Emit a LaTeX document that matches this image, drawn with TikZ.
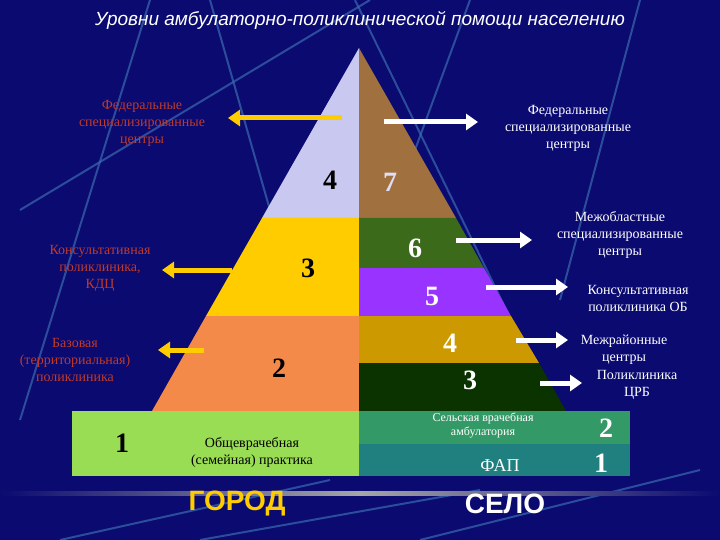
\documentclass[tikz,border=0pt]{standalone}
\usepackage{fontspec}
\setmainfont{Liberation Serif}
\newfontfamily\arial{Liberation Sans}
\usetikzlibrary{arrows.meta}
\definecolor{bg}{HTML}{0A0A70}
\definecolor{deco}{HTML}{3A6AB0}
\definecolor{lav}{HTML}{C8C8F0}
\definecolor{yel}{HTML}{FFCC00}
\definecolor{ora}{HTML}{F48A4A}
\definecolor{brn}{HTML}{A0703F}
\definecolor{grn}{HTML}{3A6A1A}
\definecolor{pur}{HTML}{9933FF}
\definecolor{gld}{HTML}{CC9900}
\definecolor{dgr}{HTML}{0A3300}
\definecolor{lgr}{HTML}{99DD55}
\definecolor{sgr}{HTML}{339966}
\definecolor{teal}{HTML}{208080}
\definecolor{redt}{HTML}{C03A2A}
\tikzset{
  lbl/.style={align=center,font=\fontsize{14}{17}\selectfont,inner sep=0pt},
  rlbl/.style={lbl,text=redt},
  wlbl/.style={lbl,text=white},
  num/.style={font=\fontsize{28}{30}\selectfont\bfseries,inner sep=0pt},
  yarr/.style={draw=yel,line width=5pt,-{Triangle[length=12pt,width=16pt]}},
  warr/.style={draw=white,line width=5pt,-{Triangle[length=12pt,width=16pt]}},
}
\begin{document}
\begin{tikzpicture}[x=1pt,y=-1pt]
\fill[bg] (0,0) rectangle (720,540);
\useasboundingbox (0,0) rectangle (720,540);
% decorative lines
\begin{scope}[deco,line width=2pt,opacity=0.7]
\draw (20,210) -- (370,0);
\draw (210,0) -- (330,420);
\draw (355,0) -- (560,420);
\draw (470,0) -- (360,300);
\draw (640,0) -- (560,300);
\draw (150,0) -- (20,420);
\draw (60,540) -- (330,480);
\draw (420,540) -- (700,470);
\draw (200,540) -- (480,490);
\end{scope}
% pyramid left
\fill[lav] (359,48) -- (262,218) -- (359,218) -- cycle;
\fill[yel] (262,218) -- (206,316) -- (359,316) -- (359,218) -- cycle;
\fill[ora] (206,316) -- (152,411) -- (359,411) -- (359,316) -- cycle;
% right
\fill[brn] (359,48) -- (456,218) -- (359,218) -- cycle;
\fill[grn] (456,218) -- (484,268) -- (359,268) -- (359,218) -- cycle;
\fill[pur] (484,268) -- (511,316) -- (359,316) -- (359,268) -- cycle;
\fill[gld] (511,316) -- (539,363) -- (359,363) -- (359,316) -- cycle;
\fill[dgr] (539,363) -- (566,411) -- (359,411) -- (359,363) -- cycle;
% base
\fill[lgr] (72,411) rectangle (359,476);
\fill[sgr] (359,411) rectangle (630,444);
\fill[teal] (359,444) rectangle (630,476);
\fill[left color=bg,right color=bg,middle color=gray!70] (0,491) rectangle (720,495);
% numbers
\node[num] (n4l) at (330,180) {4};
\node[num,text=lav!60] (n7) at (390,182) {7};
\node[num] (n3l) at (308,268) {3};
\node[num] (n2l) at (279,368) {2};
\node[num] (n1l) at (122,443) {1};
\node[num,text=white] (n6) at (415,248) {6};
\node[num,text=white] (n5) at (432,296) {5};
\node[num,text=white] (n4r) at (450,343) {4};
\node[num,text=white] (n3r) at (470,380) {3};
\node[num,text=white] (n2r) at (606,428) {2};
\node[num,text=white] (n1r) at (601,463) {1};
% left labels
\node[rlbl] (l1) at (142,123) {Федеральные\\специализированные\\центры};
\node[rlbl] (l2) at (100,268) {Консультативная\\поликлиника,\\КДЦ};
\node[rlbl] (l3) at (75,360) {Базовая\\(территориальная)\\поликлиника};
\node[lbl] (l4) at (252,452) {Общеврачебная\\(семейная) практика};
% right labels
\node[wlbl] (r1) at (568,128) {Федеральные\\специализированные\\центры};
\node[wlbl] (r2) at (620,235) {Межобластные\\специализированные\\центры};
\node[wlbl] (r3) at (638,298) {Консультативная\\поликлиника ОБ};
\node[wlbl] (r4) at (624,350) {Межрайонные\\центры};
\node[wlbl] (r5) at (637,385) {Поликлиника\\ЦРБ};
\node[wlbl,font=\fontsize{12}{14}\selectfont] (r6) at (483,425) {Сельская врачебная\\амбулатория};
\node[wlbl,font=\fontsize{18}{20}\selectfont] (r7) at (500,466) {ФАП};
% arrow anchors
\coordinate (a1s) at (342,118); \coordinate (a1e) at (228,118);
\coordinate (a2s) at (232,270); \coordinate (a2e) at (162,270);
\coordinate (a3s) at (204,350); \coordinate (a3e) at (158,350);
\draw[yarr] (a1s) -- (a1e);
\draw[yarr] (a2s) -- (a2e);
\draw[yarr] (a3s) -- (a3e);
\coordinate (b1s) at (384,122); \coordinate (b1e) at (478,122);
\coordinate (b2s) at (456,240); \coordinate (b2e) at (532,240);
\coordinate (b3s) at (486,287); \coordinate (b3e) at (568,287);
\coordinate (b4s) at (516,340); \coordinate (b4e) at (568,340);
\coordinate (b5s) at (540,383); \coordinate (b5e) at (582,383);
\draw[warr] (b1s) -- (b1e);
\draw[warr] (b2s) -- (b2e);
\draw[warr] (b3s) -- (b3e);
\draw[warr] (b4s) -- (b4e);
\draw[warr] (b5s) -- (b5e);
% titles
\node[text=white,font=\arial\itshape\fontsize{19}{22}\selectfont,inner sep=0pt] (title) at (360,20) {Уровни амбулаторно-поликлинической помощи населению};
\node[text=yel,font=\arial\bfseries\fontsize{28}{30}\selectfont,inner sep=0pt] (gorod) at (237,504) {ГОРОД};
\node[text=white,font=\arial\bfseries\fontsize{28}{30}\selectfont,inner sep=0pt] (selo) at (505,504) {СЕЛО};
\end{tikzpicture}
\end{document}
